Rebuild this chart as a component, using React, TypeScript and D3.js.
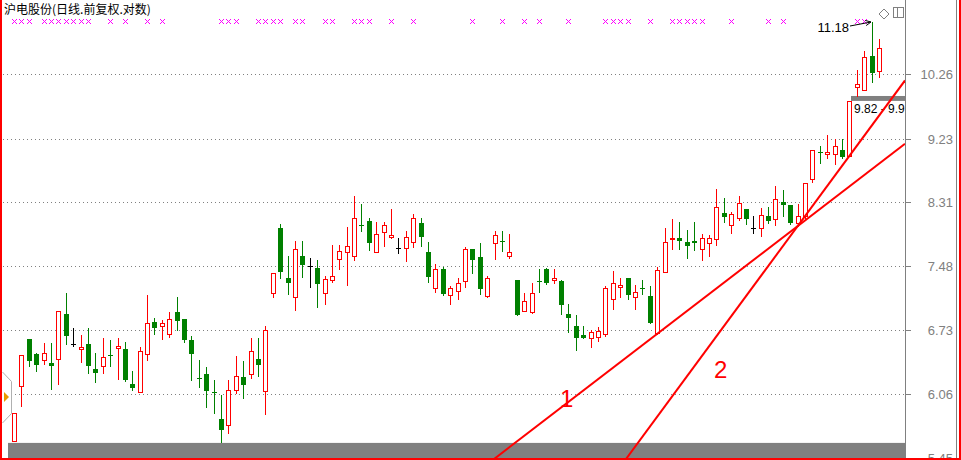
import * as d3 from 'd3'
import { useEffect } from 'react'

const title = '沪电股份(日线.前复权.对数)'

// daily OHLC, oldest first
const opens = [
  5.61, 6.14, 6.63, 6.47, 6.41, 6.38, 6.42, 6.91, 6.58, 6.53,
  6.58, 6.31, 6.34, 6.46, 6.54, 6.53, 6.16, 6.08, 6.47, 6.82,
  6.78, 6.69, 6.94, 6.86, 6.62, 6.22, 6.26, 6.08, 5.81, 5.76,
  6.10, 6.23, 6.26, 6.42, 6.09, 7.16, 7.96, 7.34, 7.11, 7.61,
  7.48, 7.46, 7.16, 7.31, 7.57, 7.66, 7.61, 8.01, 8.06, 7.66,
  7.91, 7.85, 7.71, 7.71, 7.78, 8.03, 7.66, 7.21, 7.44, 7.13,
  7.18, 7.30, 7.69, 7.59, 7.12, 7.77, 7.80, 7.61, 7.31, 6.95,
  6.94, 7.30, 7.44, 7.31, 7.30, 6.91, 6.78, 6.68, 6.64, 6.66,
  6.69, 7.09, 7.23, 7.34, 7.11, 7.22, 7.12, 6.70, 7.41, 7.82,
  7.84, 7.78, 7.79, 7.70, 7.77, 7.82, 8.17, 8.01, 8.10, 8.22,
  7.97, 7.96, 8.13, 8.08, 8.31, 8.27, 8.03, 8.12, 8.63, 9.02,
  9.00, 9.00, 9.06, 8.97, 10.05, 10.00, 10.57, 10.32,
]
const highs = [
  5.87, 6.46, 6.63, 6.48, 6.59, 6.59, 6.95, 7.16, 6.75, 6.68,
  6.75, 6.48, 6.65, 6.62, 6.64, 6.60, 6.29, 6.55, 7.13, 6.87,
  6.85, 6.94, 7.11, 6.86, 6.67, 6.41, 6.33, 6.20, 6.05, 6.20,
  6.45, 6.40, 6.64, 6.64, 6.78, 7.40, 8.02, 7.61, 7.80, 7.80,
  7.58, 7.55, 7.36, 7.75, 7.75, 7.98, 8.39, 8.28, 8.10, 8.05,
  8.05, 8.22, 7.84, 7.92, 8.15, 8.10, 7.78, 7.51, 7.47, 7.24,
  7.33, 7.72, 7.69, 7.77, 7.36, 7.92, 7.92, 7.89, 7.31, 7.16,
  7.28, 7.45, 7.46, 7.45, 7.31, 7.03, 6.90, 6.78, 6.73, 6.77,
  7.24, 7.42, 7.33, 7.34, 7.25, 7.31, 7.24, 7.47, 7.97, 8.08,
  8.04, 7.94, 8.04, 7.89, 7.87, 8.49, 8.37, 8.18, 8.39, 8.22,
  8.12, 8.23, 8.25, 8.54, 8.48, 8.27, 8.29, 8.58, 9.06, 9.12,
  9.28, 9.23, 9.22, 9.82, 10.34, 10.66, 11.18, 10.87,
]
const lows = [
  5.61, 5.94, 6.34, 6.29, 6.37, 6.11, 6.16, 6.58, 6.56, 6.39,
  6.27, 6.18, 6.27, 6.34, 6.21, 6.19, 6.10, 6.08, 6.41, 6.69,
  6.63, 6.66, 6.73, 6.60, 6.20, 6.13, 5.93, 5.87, 5.60, 5.68,
  6.07, 6.02, 6.22, 6.24, 5.86, 7.11, 7.34, 7.15, 6.96, 7.35,
  7.23, 6.99, 7.03, 7.29, 7.45, 7.25, 7.55, 7.93, 7.68, 7.65,
  7.73, 7.83, 7.64, 7.54, 7.72, 7.73, 7.29, 7.17, 7.13, 7.03,
  7.08, 7.23, 7.39, 7.14, 7.11, 7.57, 7.67, 7.58, 6.90, 6.95,
  6.92, 7.17, 7.26, 7.27, 6.91, 6.71, 6.51, 6.64, 6.55, 6.61,
  6.67, 6.97, 7.11, 7.09, 6.97, 7.15, 6.81, 6.69, 7.41, 7.70,
  7.70, 7.58, 7.68, 7.56, 7.61, 7.75, 8.05, 7.90, 8.07, 8.02,
  7.90, 7.86, 8.03, 8.01, 8.13, 8.02, 7.99, 8.10, 8.59, 8.86,
  8.94, 8.85, 8.94, 8.97, 9.90, 10.00, 10.13, 10.22,
]
const closes = [
  5.87, 6.46, 6.40, 6.36, 6.48, 6.34, 6.95, 6.67, 6.58, 6.55,
  6.35, 6.27, 6.44, 6.45, 6.56, 6.20, 6.12, 6.50, 6.81, 6.76,
  6.81, 6.86, 6.83, 6.62, 6.47, 6.21, 6.09, 6.07, 5.71, 6.10,
  6.24, 6.15, 6.50, 6.36, 6.73, 7.40, 7.41, 7.28, 7.69, 7.49,
  7.48, 7.26, 7.32, 7.36, 7.67, 7.73, 8.10, 8.00, 7.77, 7.89,
  8.00, 7.87, 7.71, 7.85, 8.10, 7.85, 7.35, 7.44, 7.14, 7.21,
  7.27, 7.69, 7.56, 7.20, 7.34, 7.87, 7.79, 7.66, 6.90, 7.06,
  7.16, 7.29, 7.27, 7.34, 7.02, 6.87, 6.64, 6.65, 6.71, 6.72,
  7.21, 7.28, 7.25, 7.13, 7.17, 7.21, 6.81, 7.43, 7.78, 7.84,
  7.79, 7.73, 7.77, 7.84, 7.84, 8.25, 8.11, 8.15, 8.30, 8.08,
  7.97, 8.14, 8.06, 8.35, 8.27, 8.03, 8.12, 8.58, 9.06, 9.01,
  9.03, 9.12, 8.95, 9.82, 10.10, 10.56, 10.28, 10.72,
]

// candles flagged with a magenta x in the top strip
const markIdx = [
  0, 1, 2, 4, 5, 6, 7, 8, 9, 10, 13, 15, 18, 20, 28, 29, 30, 33, 34, 35, 36,
  38, 39, 42, 43, 46, 47, 48, 51, 54, 62, 66, 69, 71, 75, 80, 81, 82, 83, 86,
  89, 90, 91, 92, 93, 97, 102, 104, 114, 115,
]

const tickValues = [10.26, 9.23, 8.31, 7.48, 6.73, 6.06, 5.45]

// trend lines: [candle index, price] anchors
const trendLines = [
  { name: '1', from: [87, 6.69], to: [106, 7.99] },
  { name: '2', from: [106, 7.99], to: [113, 8.97] },
]

// open price gaps
const gapLows = [5.44, 9.82]
const gapHighs = [5.59, 9.9]
const gapFrom = [-0.8, 113.2]
const gapLabels = ['', '9.82 - 9.9']

const W = 961
const H = 460
const right = 905
const bottom = 458
const RED = '#ff0000'
const GREEN = '#008000'
const GRAY = '#808080'

// pixel pattern of the little x marks
const xPix = [[-2, 0], [2, 0], [-1, 1], [1, 1], [0, 2], [-1, 3], [1, 3], [-2, 4], [2, 4]]

export default function App() {
  useEffect(() => {
    document.body.style.margin = '0'
  }, [])

  const x = d3.scaleLinear().domain([0, opens.length - 1]).range([14, 879])
  const y = d3.scaleLog().domain([5.45, 10.26]).range([458.3, 74.3])

  const candles = opens.map((o, i) => {
    const c = closes[i]
    const cx = Math.round(x(i))
    const yh = Math.round(y(highs[i]))
    const yl = Math.round(y(lows[i]))
    const yo = Math.round(y(o))
    const yc = Math.round(y(c))
    if (c > o) {
      return (
        <g key={i} stroke={RED} fill="#fff">
          {yh < yc && <line x1={cx + 0.5} x2={cx + 0.5} y1={yh} y2={yc} />}
          {yl > yo && <line x1={cx + 0.5} x2={cx + 0.5} y1={yo + 1} y2={yl + 1} />}
          <rect x={cx - 1.5} y={yc + 0.5} width={4} height={Math.max(yo - yc, 0)} />
        </g>
      )
    }
    if (c < o) {
      return (
        <g key={i}>
          <line x1={cx + 0.5} x2={cx + 0.5} y1={yh} y2={yl + 1} stroke={GREEN} />
          <rect x={cx - 2} y={yo} width={5} height={Math.max(yc - yo, 1)} fill={GREEN} />
        </g>
      )
    }
    return (
      <g key={i} stroke="#000">
        <line x1={cx + 0.5} x2={cx + 0.5} y1={yh} y2={yl + 1} />
        <line x1={cx - 2} x2={cx + 3} y1={yo + 0.5} y2={yo + 0.5} />
      </g>
    )
  })

  // extend each trend line across the plot
  const lines = trendLines.map((t) => {
    const x1 = x(t.from[0]), y1 = y(t.from[1])
    const x2 = x(t.to[0]), y2 = y(t.to[1])
    const k = (y2 - y1) / (x2 - x1)
    const xs = x1 + (H - y1) / k
    return { name: t.name, x1: xs, y1: H, x2: right, y2: y1 + (right - x1) * k }
  })

  const hiIdx = d3.maxIndex(highs)
  const tipX = Math.round(x(hiIdx)) - 1
  const tipY = Math.round(y(highs[hiIdx]))
  const sx = tipX - 21, sy = tipY + 4
  const ang = Math.atan2(tipY - sy, tipX - sx)
  const head = (d: number) =>
    `${tipX - 6 * Math.cos(ang + d)},${tipY - 6 * Math.sin(ang + d)}`

  return (
    <svg width={W} height={H} style={{ display: 'block', background: '#fff' }}>
      <defs>
        <clipPath id="plot">
          <rect x={2} y={0} width={right - 2} height={bottom} />
        </clipPath>
      </defs>

      <text x={4} y={14} fontSize={12} fontFamily="'Noto Sans CJK SC', sans-serif" fill="#000">
        {title}
      </text>

      {tickValues.map((t) => {
        const ty = Math.round(y(t)) + 0.5
        return (
          <g key={t}>
            <line x1={3} x2={right} y1={ty} y2={ty} stroke={GRAY} strokeDasharray="1,3" />
            <line x1={right} x2={911} y1={ty} y2={ty} stroke={GRAY} />
            <text
              x={953}
              y={ty}
              dy="0.35em"
              textAnchor="end"
              fontSize={13}
              fontFamily="'Liberation Sans', Arial, sans-serif"
              fill={GRAY}
            >
              {t.toFixed(2)}
            </text>
          </g>
        )
      })}

      <g clipPath="url(#plot)">
        {gapLows.map((lo, i) => (
          <g key={i}>
            <rect
              x={Math.round(x(gapFrom[i]))}
              y={y(gapHighs[i])}
              width={right - Math.round(x(gapFrom[i]))}
              height={y(lo) - y(gapHighs[i])}
              fill={GRAY}
            />
            <text
              x={Math.round(x(gapFrom[i])) + 3}
              y={y(lo) + 12.5}
              fontSize={12}
              fontFamily="'Liberation Sans', Arial, sans-serif"
              fill="#000"
            >
              {gapLabels[i]}
            </text>
          </g>
        ))}
        {candles}
        {lines.map((l) => (
          <line key={l.name} x1={l.x1} y1={l.y1} x2={l.x2} y2={l.y2} stroke={RED} strokeWidth={2} />
        ))}
      </g>

      <text x={560} y={407} fontSize={24} fontFamily="'Liberation Sans', Arial, sans-serif" fill={RED}>
        {lines[0].name}
      </text>
      <text x={714} y={378} fontSize={24} fontFamily="'Liberation Sans', Arial, sans-serif" fill={RED}>
        {lines[1].name}
      </text>

      <g fill="#ff00ff">
        {markIdx.map((i) => {
          const cx = Math.round(x(i))
          return (
            <g key={i}>
              {xPix.map(([dx, dy], j) => (
                <rect key={j} x={cx + dx} y={19 + dy} width={1} height={1} />
              ))}
            </g>
          )
        })}
      </g>

      <text
        x={sx - 1}
        y={32}
        textAnchor="end"
        fontSize={13}
        fontFamily="'Liberation Sans', Arial, sans-serif"
        fill="#000"
      >
        {highs[hiIdx].toFixed(2)}
      </text>
      <path
        d={`M${sx},${sy} L${tipX},${tipY} M${head(0.45)} L${tipX},${tipY} L${head(-0.45)}`}
        stroke="#000"
        fill="none"
      />

      <path d="M884,9 L889,14 L884,19 L879,14 Z" stroke={GRAY} fill="none" />
      <rect x={893.5} y={7.5} width={10} height={10} stroke={GRAY} fill="none" />
      <line x1={897.5} x2={897.5} y1={7.5} y2={17.5} stroke={GRAY} />

      <path d="M2.5,372 L11.5,381.5 L11.5,413.5 L2.5,423" stroke="#b0b0b0" fill="#fff" />
      <path d="M4,392 L9,397 L4,402 Z" fill="#e89b00" />

      <line x1={right + 0.5} x2={right + 0.5} y1={0} y2={H} stroke={GRAY} />
      <line x1={956.5} x2={956.5} y1={0} y2={H} stroke={GRAY} />
      <rect x={0} y={0} width={2} height={H} fill={RED} />
      <rect x={W - 2} y={0} width={2} height={H} fill={RED} />
      <rect x={0} y={H - 2} width={W} height={2} fill={RED} />
    </svg>
  )
}
